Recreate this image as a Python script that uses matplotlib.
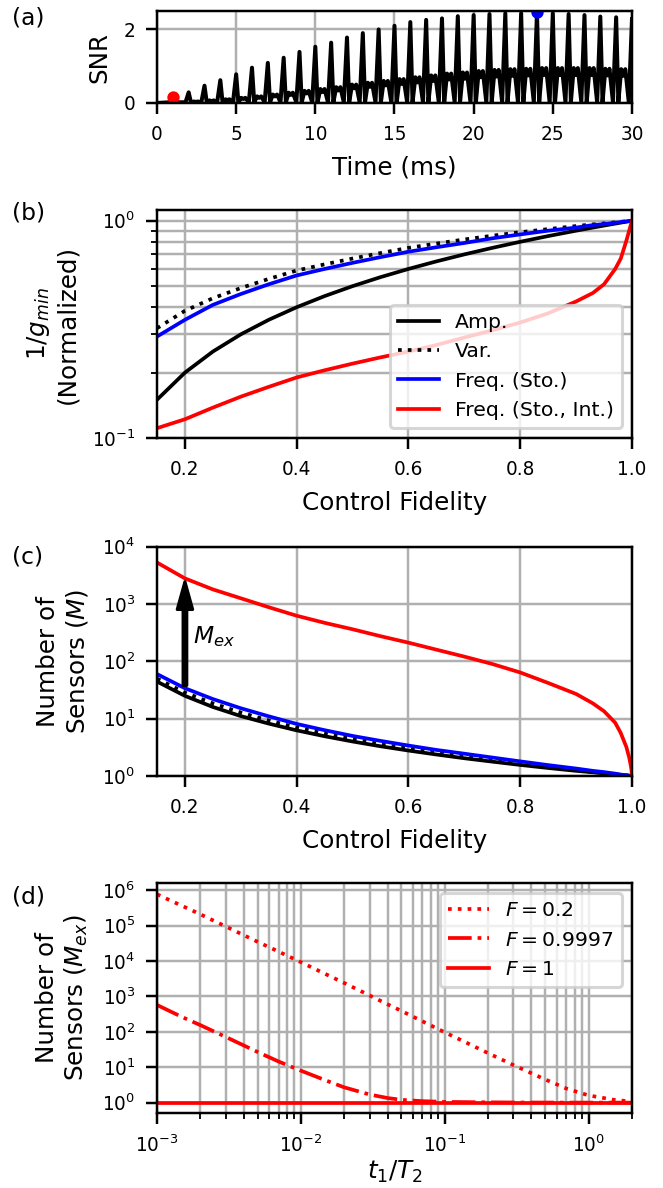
import matplotlib
matplotlib.use('Agg')
import matplotlib.pyplot as plt
from matplotlib.ticker import NullLocator

# ---- (a) SNR vs time: one tall pulse per ms, with a lower double bump in between
pulse_t = list(range(1, 31))
snr_peak = [0.08, 0.29, 0.47, 0.62, 0.78, 0.96, 1.09, 1.23, 1.39, 1.53,
            1.64, 1.78, 1.90, 2.00, 2.10, 2.20, 2.26, 2.30, 2.36, 2.39,
            2.42, 2.44, 2.44, 2.46, 2.44, 2.42, 2.39, 2.35, 2.33, 2.28]
snr_bump = [0.02, 0.04, 0.07, 0.10, 0.14, 0.18, 0.23, 0.28, 0.33, 0.38,
            0.43, 0.50, 0.55, 0.60, 0.65, 0.70, 0.75, 0.80, 0.83, 0.87,
            0.90, 0.92, 0.93, 0.95, 0.95, 0.95, 0.95, 0.93, 0.92, 0.90]
snr_dip = [0.02, 0.03, 0.05, 0.08, 0.11, 0.14, 0.18, 0.22, 0.26, 0.30,
           0.34, 0.40, 0.44, 0.48, 0.52, 0.56, 0.60, 0.64, 0.66, 0.70,
           0.72, 0.74, 0.75, 0.76, 0.76, 0.76, 0.76, 0.75, 0.74, 0.72]
snr_floor = 0.02
dot_t = [1, 24]
dot_snr = [0.17, 2.47]
dot_col = ['r', 'b']

# ---- (b), (c) vs control fidelity
fid = [0.15, 0.2, 0.25, 0.3, 0.35, 0.4, 0.45, 0.5, 0.55, 0.6, 0.65, 0.7, 0.75,
       0.8, 0.85, 0.9, 0.93, 0.95, 0.97, 0.98, 0.99, 0.995, 0.998, 0.999, 1.0]
g_amp = [0.15, 0.2, 0.25, 0.3, 0.35, 0.4, 0.45, 0.5, 0.55, 0.6, 0.65, 0.7, 0.75,
         0.8, 0.85, 0.9, 0.93, 0.95, 0.97, 0.98, 0.99, 0.995, 0.998, 0.999, 1.0]
g_var = [0.32, 0.385, 0.44, 0.49, 0.54, 0.59, 0.63, 0.67, 0.71, 0.75, 0.785, 0.82, 0.853,
         0.885, 0.915, 0.945, 0.962, 0.972, 0.983, 0.989, 0.994, 0.997, 0.999, 0.9995, 1.0]
g_sto = [0.293, 0.35, 0.41, 0.46, 0.51, 0.56, 0.60, 0.64, 0.68, 0.72, 0.755, 0.79, 0.83,
         0.865, 0.90, 0.93, 0.955, 0.965, 0.979, 0.986, 0.993, 0.997, 0.999, 0.9995, 1.0]
g_int = [0.111, 0.122, 0.138, 0.155, 0.172, 0.19, 0.205, 0.22, 0.235, 0.25, 0.268, 0.29, 0.313,
         0.34, 0.375, 0.425, 0.465, 0.51, 0.60, 0.67, 0.81, 0.90, 0.96, 0.975, 1.0]

m_amp = [44.4, 25, 16, 11.1, 8.2, 6.25, 4.94, 4.0, 3.3, 2.78, 2.37, 2.04, 1.78,
         1.56, 1.38, 1.23, 1.16, 1.11, 1.06, 1.04, 1.02, 1.01, 1.004, 1.002, 1.0]
m_var = [50, 28.5, 18.5, 12.8, 9.3, 7.0, 5.5, 4.4, 3.6, 3.0, 2.55, 2.2, 1.9,
         1.65, 1.45, 1.28, 1.18, 1.13, 1.07, 1.05, 1.025, 1.012, 1.005, 1.002, 1.0]
m_sto = [60, 34, 22, 15.2, 11, 8.1, 6.3, 5.0, 4.1, 3.4, 2.85, 2.45, 2.1,
         1.8, 1.55, 1.35, 1.23, 1.17, 1.1, 1.06, 1.03, 1.015, 1.006, 1.003, 1.0]
m_int = [5300, 2800, 1800, 1260, 880, 625, 470, 363, 275, 212, 160, 121, 90,
         64, 42, 27, 18.5, 13.5, 8.5, 5.6, 3.2, 2.1, 1.5, 1.3, 1.0]
arrow_f = 0.2
arrow_from = 38
arrow_to = 2450

# ---- (d) M_ex vs t1/T2
ratio = [1e-3, 1.5e-3, 2e-3, 3e-3, 5e-3, 7e-3, 1e-2, 1.5e-2, 2e-2, 3e-2, 4e-2,
         5e-2, 7e-2, 0.1, 0.15, 0.2, 0.3, 0.5, 0.7, 1.0, 1.5, 2.0]
mex_02 = [7.7e5, 3.6e5, 2.1e5, 9.5e4, 3.5e4, 1.85e4, 9.3e3, 4.2e3, 2.4e3, 1.07e3, 600,
          390, 198, 97, 44, 25, 11.5, 4.5, 2.5, 1.6, 1.2, 1.07]
mex_09997 = [575, 260, 155, 72, 27, 14.5, 8.0, 4.2, 2.7, 1.7, 1.35,
             1.2, 1.1, 1.05, 1.03, 1.02, 1.01, 1.005, 1.003, 1.002, 1.001, 1.0]
mex_1 = [1, 1, 1, 1, 1, 1, 1, 1, 1, 1, 1, 1, 1, 1, 1, 1, 1, 1, 1, 1, 1, 1]

# build the pulse train from the per-pulse heights
t_a = [0.0, 0.8]
s_a = [0.0, snr_floor]
for i, n in enumerate(pulse_t):
    t_a.append(n)
    s_a.append(snr_peak[i])
    if n < pulse_t[-1]:
        t_a += [n + 0.14, n + 0.32, n + 0.45, n + 0.58, n + 0.80]
        s_a += [snr_floor, snr_bump[i], snr_dip[i], snr_bump[i], snr_floor]

plt.rcParams['font.family'] = 'DejaVu Sans'
plt.rcParams['xtick.labelsize'] = 6
plt.rcParams['ytick.labelsize'] = 6
plt.rcParams['axes.labelsize'] = 8
plt.rcParams['legend.fontsize'] = 6.6
plt.rcParams['mathtext.fontset'] = 'dejavusans'

fig = plt.figure(figsize=(663 / 222, 1188 / 222), dpi=222)
L, W = 0.2368, 0.7164
ax_a = fig.add_axes([L, 0.9133, W, 0.0774])
ax_b = fig.add_axes([L, 0.6313, W, 0.1919])
ax_c = fig.add_axes([L, 0.3468, W, 0.1930])
ax_d = fig.add_axes([L, 0.0634, W, 0.1933])

lw = 1.2

# (a)
ax_a.plot(t_a, s_a, color='k', lw=1.3)
for t, s, c in zip(dot_t, dot_snr, dot_col):
    ax_a.plot(t, s, 'o', color=c, ms=3)
ax_a.set_xlim(0, 30)
ax_a.set_ylim(0, 2.5)
ax_a.set_yticks([0, 2])
ax_a.set_xlabel('Time (ms)')
ax_a.set_ylabel('SNR')
ax_a.grid(True)

# (b)
ax_b.plot(fid, g_amp, color='k', lw=lw, label='Amp.')
ax_b.plot(fid, g_var, color='k', lw=lw, ls=':', label='Var.')
ax_b.plot(fid, g_sto, color='b', lw=lw, label='Freq. (Sto.)')
ax_b.plot(fid, g_int, color='r', lw=lw, label='Freq. (Sto., Int.)')
ax_b.set_yscale('log')
ax_b.set_xlim(0.15, 1.0)
ax_b.set_ylim(0.1, 1.12)
ax_b.set_xticks([0.2, 0.4, 0.6, 0.8, 1.0])
ax_b.set_xlabel('Control Fidelity')
ax_b.set_ylabel('1/$g_{min}$\n(Normalized)')
ax_b.grid(True, which='major')
ax_b.yaxis.grid(True, which='minor')
ax_b.legend(loc='lower right')

# (c)
ax_c.plot(fid, m_amp, color='k', lw=lw)
ax_c.plot(fid, m_var, color='k', lw=lw, ls=':')
ax_c.plot(fid, m_sto, color='b', lw=lw)
ax_c.plot(fid, m_int, color='r', lw=lw)
ax_c.set_yscale('log')
ax_c.yaxis.set_minor_locator(NullLocator())
ax_c.set_xlim(0.15, 1.0)
ax_c.set_ylim(1, 1e4)
ax_c.set_xticks([0.2, 0.4, 0.6, 0.8, 1.0])
ax_c.annotate('', xy=(arrow_f, arrow_to), xytext=(arrow_f, arrow_from),
              arrowprops=dict(facecolor='k', edgecolor='k', width=1.2,
                              headwidth=5, headlength=9, shrink=0))
ax_c.text(0.215, 270, '$M_{ex}$', fontsize=7.6, va='center', ha='left')
ax_c.set_xlabel('Control Fidelity')
ax_c.set_ylabel('Number of\nSensors ($M$)')
ax_c.grid(True)

# (d)
ax_d.plot(ratio, mex_02, color='r', lw=lw, ls=':', label='$F=0.2$')
ax_d.plot(ratio, mex_09997, color='r', lw=lw, ls='-.', label='$F=0.9997$')
ax_d.plot(ratio, mex_1, color='r', lw=lw, label='$F=1$')
ax_d.set_xscale('log')
ax_d.set_yscale('log')
ax_d.yaxis.set_minor_locator(NullLocator())
ax_d.set_xlim(1e-3, 2)
ax_d.set_ylim(0.52, 1.6e6)
ax_d.set_yticks([1, 1e1, 1e2, 1e3, 1e4, 1e5, 1e6])
ax_d.set_xlabel('$t_1/T_2$', labelpad=1)
ax_d.set_ylabel('Number of\nSensors ($M_{ex}$)')
ax_d.grid(True, which='major')
ax_d.xaxis.grid(True, which='minor')
ax_d.legend(loc='upper right')

for lab, y in zip(['(a)', '(b)', '(c)', '(d)'], [0.985, 0.8207, 0.531, 0.245]):
    fig.text(0.018, y, lab, fontsize=7.6, va='center', ha='left')

fig.savefig('out.png', dpi=222)
